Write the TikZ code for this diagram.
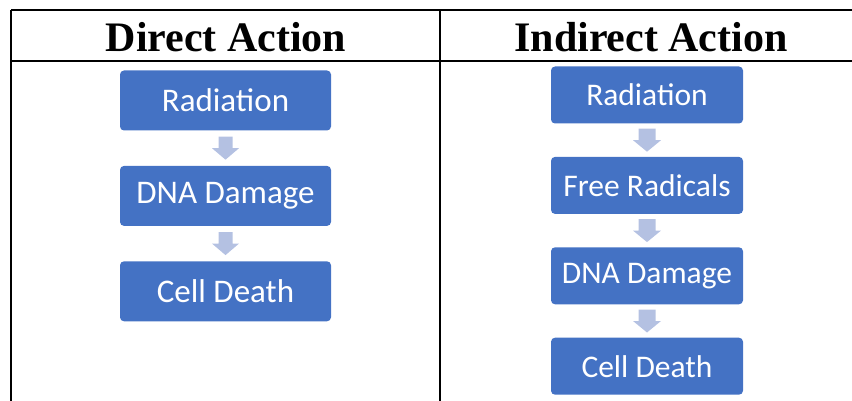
\documentclass[tikz,border=0pt]{standalone}
\usepackage{fontspec}
\setmainfont{Liberation Serif}
\newfontfamily\boxfont{Carlito}
\usepackage{tikz}
\usetikzlibrary{positioning,calc}
\usepackage{xcolor}
\definecolor{boxblue}{RGB}{68,114,196}
\definecolor{arrowblue}{RGB}{180,193,226}

\tikzset{
  stepbox/.style={rectangle, rounded corners=4pt, fill=boxblue, text=white,
    inner sep=0pt, font=\boxfont\fontsize{33}{40}\selectfont},
  leftbox/.style={stepbox, minimum width=211pt, minimum height=60pt},
  rightbox/.style={stepbox, minimum width=192pt, minimum height=57pt,
    font=\boxfont\fontsize{31.5}{38}\selectfont},
  heading/.style={font=\bfseries\fontsize{42}{48}\selectfont, anchor=base}
}

% block arrow from node #1 down to node #2 (shaft half width #3, head half width #4)
\newcommand{\stepArrow}[4]{%
  \fill[arrowblue] let \p1 = ($(#1.south)!0.5!(#2.north)$) in
    ({\x1-#3},{\y1+11.5pt}) -- ({\x1+#3},{\y1+11.5pt}) -- ({\x1+#3},{\y1})
    -- ({\x1+#4},{\y1}) -- ({\x1},{\y1-11.5pt}) -- ({\x1-#4},{\y1})
    -- ({\x1-#3},{\y1}) -- cycle;}

\begin{document}
\begin{tikzpicture}[x=1pt,y=-1pt]
  \useasboundingbox (0,0) rectangle (852,401);

  % Define the corners of the table
  \coordinate (TL) at (11,10);
  \coordinate (TR) at (852,10);
  \coordinate (HL) at (11,61);
  \coordinate (HR) at (852,61);
  \coordinate (BL) at (11,401);
  \coordinate (MT) at (440,10);
  \coordinate (MB) at (440,401);

  % Draw the table lines
  \draw[line width=2pt] (TL) -- (TR);
  \draw[line width=2pt] (HL) -- (HR);
  \draw[line width=2pt] (TL) -- (BL);
  \draw[line width=2pt] (MT) -- (MB);

  % Column headings
  \node[heading] (headL) at (226,52) {Direct Action};
  \node[heading] (headR) at (651,52) {Indirect Action};

  % Direct action steps
  \node[leftbox] (radL) at (225.5,100.5) {Radiation};
  \node[leftbox, below=35pt of radL] (dnaL) {DNA Damage};
  \node[leftbox, below=35pt of dnaL] (deathL) {Cell Death};

  % Indirect action steps
  \node[rightbox] (radR) at (647,95) {Radiation};
  \node[rightbox, below=33pt of radR] (freeR) {Free Radicals};
  \node[rightbox, below=33pt of freeR] (dnaR) {DNA Damage};
  \node[rightbox, below=33pt of dnaR] (deathR) {Cell Death};

  % Arrows between the steps
  \stepArrow{radL}{dnaL}{7pt}{13.5pt}
  \stepArrow{dnaL}{deathL}{7pt}{13.5pt}
  \stepArrow{radR}{freeR}{8.5pt}{14pt}
  \stepArrow{freeR}{dnaR}{8.5pt}{14pt}
  \stepArrow{dnaR}{deathR}{8.5pt}{14pt}
\end{tikzpicture}
\end{document}
